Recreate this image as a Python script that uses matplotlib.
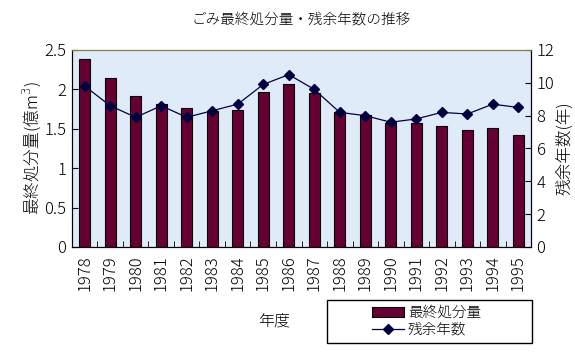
import matplotlib
matplotlib.use("Agg")
import matplotlib.pyplot as plt
from matplotlib.patches import Rectangle
from matplotlib.ticker import FormatStrFormatter, FixedLocator

plt.rcParams['font.family'] = ['Noto Sans CJK JP', 'DejaVu Sans']
plt.rcParams['font.weight'] = 'light'
plt.rcParams['axes.titleweight'] = 'light'
plt.rcParams['axes.labelweight'] = 'light'

years = [str(y) for y in range(1978, 1996)]
landfill = [2.38, 2.14, 1.91, 1.81, 1.76, 1.72, 1.74, 1.97, 2.07, 1.95,
            1.71, 1.67, 1.57, 1.57, 1.53, 1.48, 1.51, 1.42]
remaining = [9.8, 8.6, 7.9, 8.6, 7.9, 8.3, 8.7, 9.9, 10.5, 9.6,
             8.2, 8.0, 7.6, 7.8, 8.2, 8.1, 8.7, 8.5]

bar_color = '#660033'
line_color = '#000040'

fig = plt.figure(figsize=(5.75, 3.52), dpi=100, facecolor='white')
ax = fig.add_axes([0.1252, 0.2983, 0.7983, 0.5597], facecolor='#e0ebfa')
x = list(range(len(years)))
bars = ax.bar(x, landfill, width=0.42, color=bar_color, edgecolor='black', linewidth=0.8, zorder=2)
ax.set_xlim(-0.5, len(years) - 0.5)
ax.set_ylim(0, 2.5)
ax.set_yticks([0, 0.5, 1, 1.5, 2, 2.5])
ax.yaxis.set_major_formatter(FormatStrFormatter('%g'))
ax.set_xticks(x)
ax.set_xticklabels(years, rotation=90, fontsize=12)
ax.xaxis.set_minor_locator(FixedLocator([i + 0.5 for i in x]))
ax.tick_params(axis='x', which='major', length=0, pad=6)
ax.tick_params(axis='x', which='minor', direction='in', length=4)
ax.tick_params(axis='y', direction='in', length=4, labelsize=12, pad=4)
ax.set_ylabel('最終処分量(億m$^3$)', fontsize=12, labelpad=1, fontweight='light')
ax.set_xlabel('年度', fontsize=11.5, fontweight='light')
ax.xaxis.set_label_coords(0.44, -0.33)
ax.set_title('ごみ最終処分量・残余年数の推移', fontsize=10.5, pad=19, fontweight='light')
for s in ['left', 'bottom', 'right']:
    ax.spines[s].set_color('black')
ax.spines['top'].set_color('#808040')

ax2 = ax.twinx()
line, = ax2.plot(x, remaining, color=line_color, linewidth=0.9, marker='D', markersize=5, zorder=3)
ax2.set_ylim(0, 12)
ax2.set_yticks(range(0, 13, 2))
ax2.tick_params(axis='y', direction='in', length=4, labelsize=12, pad=4)
ax2.set_ylabel('残余年数(年)', fontsize=12, labelpad=1, fontweight='light')
ax2.spines['top'].set_color('#808040')

# legend box drawn as a plain frame, entries centred inside
fig.patches.append(Rectangle((0.569, 0.026), 0.356, 0.122, transform=fig.transFigure,
                             fill=False, edgecolor='black', linewidth=1.0))
leg = fig.legend([bars, line], ['最終処分量', '残余年数'], loc='center',
                 bbox_to_anchor=(0.742, 0.087), prop={'size': 10.5, 'weight': 'light'},
                 frameon=False, borderpad=0, labelspacing=0.2,
                 handlelength=2.2, handleheight=0.7, handletextpad=0.25)

fig.savefig('out.png', dpi=100)
